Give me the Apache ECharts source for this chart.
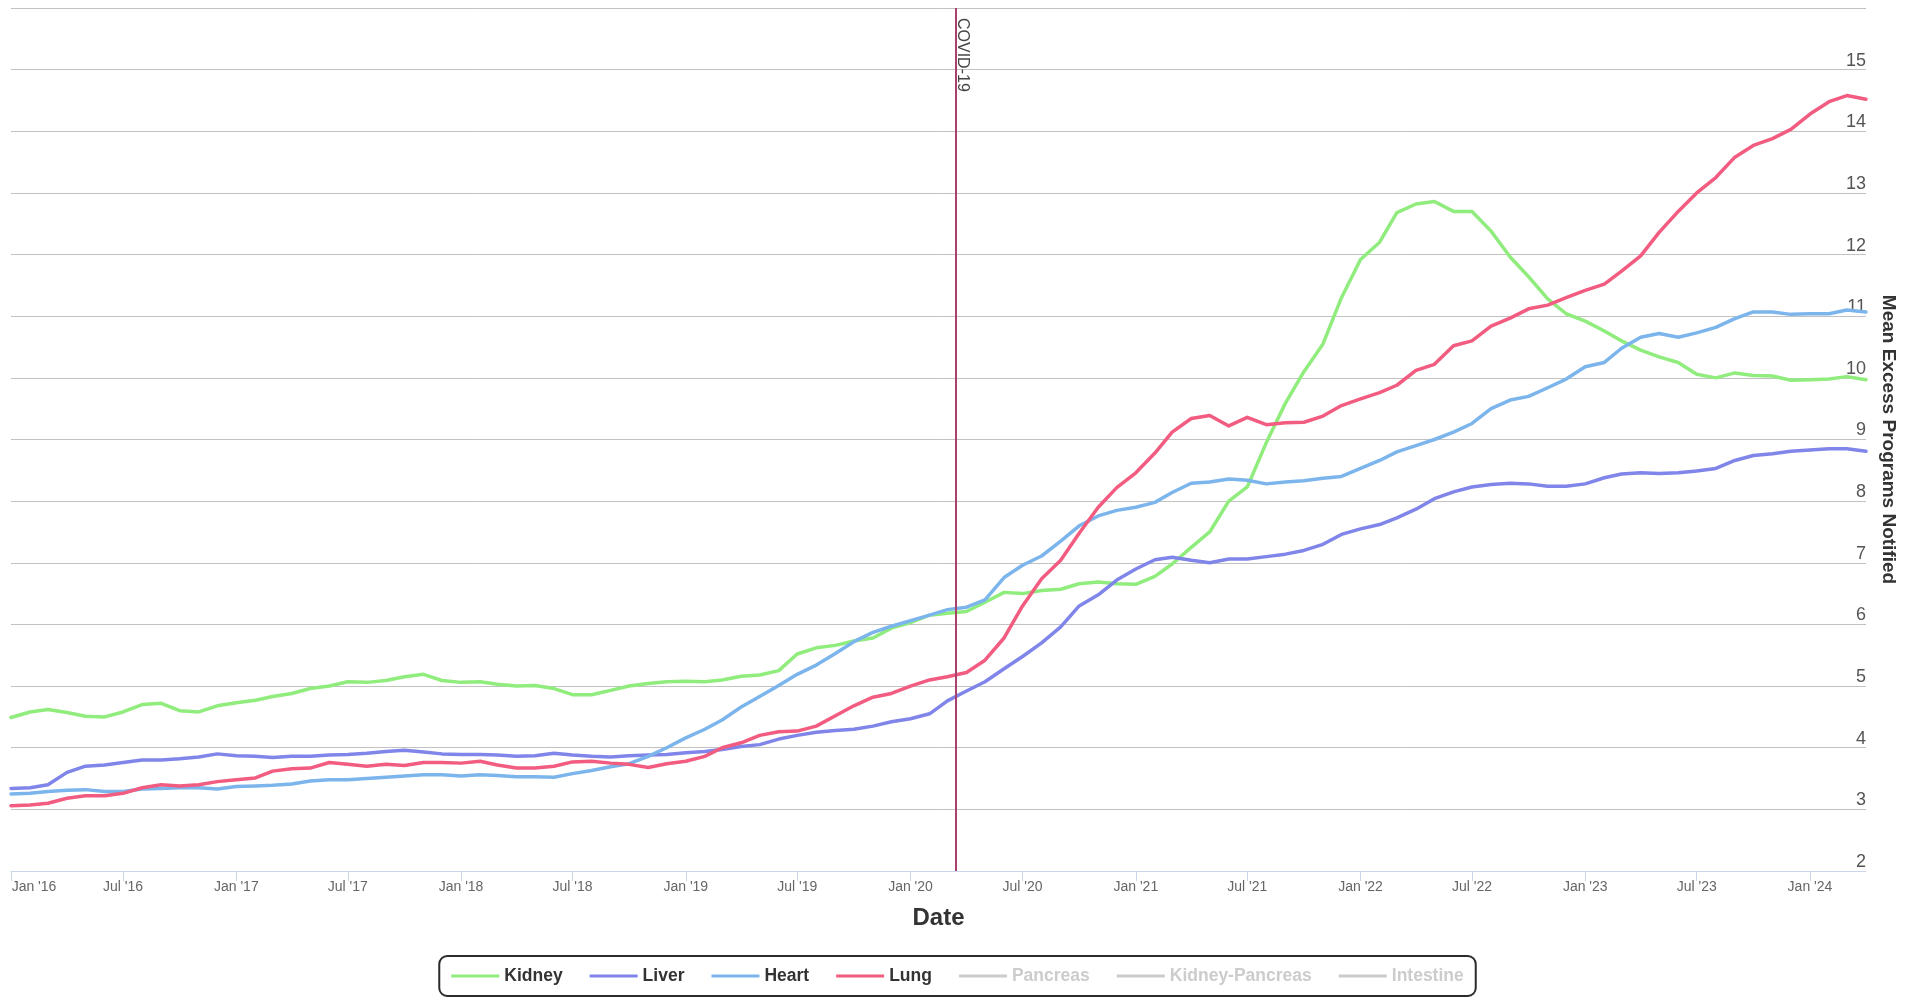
<!DOCTYPE html>
<html>
<head>
<meta charset="utf-8">
<script src="https://cdn.jsdelivr.net/npm/echarts@6/dist/echarts.min.js"></script>
<style>
html,body{margin:0;padding:0;background:#ffffff;}
#chart{width:1915px;height:998px;}
</style>
</head>
<body>
<div id="chart"></div>
<script>
// ---- data (monthly, Jan 2016 .. Apr 2024) ----
const startYear = 2016;
const monthCount = 100;
const monthNames = ['Jan','Feb','Mar','Apr','May','Jun','Jul','Aug','Sep','Oct','Nov','Dec'];

const kidney = [4.49,4.58,4.62,4.57,4.51,4.50,4.58,4.70,4.72,4.60,4.58,4.68,
  4.73,4.77,4.83,4.88,4.96,5.00,5.07,5.06,5.09,5.15,5.19,5.09,
  5.06,5.07,5.03,5.00,5.01,4.96,4.86,4.86,4.93,5.00,5.04,5.07,
  5.08,5.07,5.10,5.16,5.18,5.25,5.52,5.62,5.66,5.73,5.78,5.94,
  6.03,6.15,6.18,6.21,6.36,6.52,6.50,6.55,6.57,6.66,6.69,6.66,
  6.65,6.78,6.98,7.25,7.50,8.00,8.23,8.95,9.59,10.10,10.55,11.30,
  11.92,12.20,12.68,12.82,12.86,12.70,12.70,12.38,11.96,11.64,11.28,11.04,
  10.92,10.76,10.60,10.45,10.34,10.25,10.06,10.00,10.08,10.04,10.03,9.96,
  9.97,9.98,10.02,9.97];

const liver = [3.34,3.35,3.40,3.60,3.70,3.72,3.76,3.80,3.80,3.82,3.85,3.90,
  3.87,3.86,3.84,3.86,3.86,3.88,3.89,3.91,3.94,3.96,3.93,3.90,
  3.89,3.89,3.88,3.86,3.87,3.91,3.88,3.86,3.85,3.87,3.88,3.89,
  3.92,3.94,3.97,4.02,4.05,4.14,4.20,4.25,4.28,4.30,4.35,4.42,
  4.47,4.55,4.76,4.92,5.07,5.28,5.48,5.70,5.96,6.30,6.48,6.72,
  6.90,7.05,7.09,7.04,7.00,7.06,7.06,7.10,7.14,7.20,7.30,7.46,
  7.55,7.62,7.73,7.87,8.04,8.15,8.23,8.27,8.29,8.28,8.24,8.24,
  8.28,8.38,8.44,8.46,8.45,8.46,8.49,8.53,8.66,8.74,8.77,8.81,
  8.83,8.85,8.85,8.81];

const heart = [3.25,3.26,3.29,3.31,3.32,3.29,3.29,3.33,3.34,3.35,3.35,3.33,
  3.37,3.38,3.39,3.41,3.46,3.48,3.48,3.50,3.52,3.54,3.56,3.56,
  3.54,3.56,3.55,3.53,3.53,3.52,3.58,3.63,3.69,3.74,3.86,4.00,
  4.16,4.30,4.45,4.66,4.83,5.01,5.19,5.34,5.53,5.72,5.87,5.97,
  6.06,6.15,6.24,6.28,6.40,6.76,6.96,7.11,7.35,7.60,7.76,7.85,
  7.90,7.98,8.14,8.29,8.31,8.36,8.34,8.28,8.31,8.33,8.37,8.40,
  8.53,8.66,8.80,8.90,9.00,9.12,9.26,9.50,9.64,9.70,9.84,9.98,
  10.18,10.25,10.48,10.66,10.72,10.66,10.73,10.82,10.96,11.07,11.07,11.03,
  11.04,11.04,11.10,11.07];

const lung = [3.06,3.07,3.10,3.18,3.22,3.22,3.26,3.35,3.40,3.38,3.40,3.45,
  3.48,3.51,3.62,3.66,3.67,3.76,3.73,3.70,3.73,3.71,3.76,3.76,
  3.75,3.78,3.72,3.67,3.67,3.70,3.77,3.78,3.75,3.73,3.68,3.74,
  3.78,3.86,4.00,4.08,4.20,4.26,4.27,4.35,4.52,4.68,4.82,4.88,
  5.00,5.10,5.15,5.22,5.42,5.78,6.30,6.74,7.04,7.48,7.90,8.22,
  8.46,8.78,9.12,9.34,9.39,9.22,9.36,9.24,9.27,9.28,9.38,9.55,
  9.66,9.76,9.88,10.12,10.22,10.52,10.60,10.84,10.97,11.12,11.18,11.30,
  11.42,11.52,11.73,11.98,12.36,12.70,13.00,13.25,13.58,13.77,13.88,14.03,
  14.28,14.48,14.58,14.52];

const seriesNames = ['Kidney','Liver','Heart','Lung','Pancreas','Kidney-Pancreas','Intestine'];
const seriesColors = ['#90ed7d','#8085e9','#7cb5ec','#f15c80','#f7a35c','#e4d354','#2b908f'];
const hiddenSeries = ['Pancreas','Kidney-Pancreas','Intestine'];
const covidDate = [2020, 2, 15];  // year, monthIndex, day
const covidLabel = 'COVID-19';
const yMin = 2, yMax = 16, yStep = 1;
const xMin = [2016, 0, 1], xMax = [2024, 3, 1];

// ---- build ----
function ts(a){ return new Date(a[0], a[1], a[2]).getTime(); }
const dates = [];
for (let i = 0; i < monthCount; i++) {
  dates.push(new Date(startYear + Math.floor(i / 12), i % 12, 1).getTime());
}
const valueSets = [kidney, liver, heart, lung, [], [], []];
const DAY = 86400000;
const xMinTs = ts(xMin);

const selected = {};
hiddenSeries.forEach(n => selected[n] = false);

const series = seriesNames.map((name, k) => ({
  name: name,
  type: 'line',
  showSymbol: false,
  symbol: 'none',
  color: seriesColors[k],
  lineStyle: { width: 3.5, color: seriesColors[k], join: 'round', cap: 'round' },
  emphasis: { disabled: true },
  data: valueSets[k].map((v, i) => [dates[i], v])
}));
series[0].markLine = {
  silent: true,
  symbol: 'none',
  label: { show: false },
  lineStyle: { color: '#a8416b', width: 2, type: 'solid' },
  data: [{ xAxis: ts(covidDate) }]
};

const labelFont = 'Liberation Sans, Arial, sans-serif';
const chart = echarts.init(document.getElementById('chart'), null, { renderer: 'canvas' });
const option = {
  animation: false,
  backgroundColor: '#ffffff',
  grid: { left: 11, right: 49, top: 8, bottom: 127, containLabel: false, outerBoundsMode: 'none' },
  xAxis: {
    type: 'time',
    min: xMinTs,
    max: ts(xMax),
    minInterval: 181 * DAY,
    maxInterval: 184 * DAY,
    axisLine: { show: true, lineStyle: { color: '#ccd6eb', width: 1 } },
    axisTick: { show: true, length: 10, lineStyle: { color: '#ccd6eb', width: 1 } },
    splitLine: { show: false },
    axisLabel: {
      color: '#666666',
      fontSize: 14,
      fontFamily: labelFont,
      margin: 9,
      hideOverlap: false,
      formatter: function (value) {
        const d = new Date(value);
        const txt = monthNames[d.getMonth()] + " '" + String(d.getFullYear()).slice(2);
        return value === xMinTs ? '{first|' + txt + '}' : txt;
      },
      rich: {
        first: { color: '#666666', fontSize: 14, fontFamily: labelFont, padding: [0, 0, 0, 46] }
      }
    },
    name: 'Date',
    nameLocation: 'middle',
    nameGap: 35,
    nameTextStyle: { fontSize: 24, fontWeight: 'bold', color: '#333333', fontFamily: labelFont }
  },
  yAxis: {
    type: 'value',
    position: 'right',
    min: yMin,
    max: yMax,
    interval: yStep,
    axisLine: { show: false },
    axisTick: { show: false },
    splitLine: { show: true, lineStyle: { color: '#c2c2c2', width: 1 } },
    axisLabel: {
      inside: true,
      showMaxLabel: false,
      margin: 0,
      verticalAlign: 'bottom',
      color: '#555555',
      fontSize: 18,
      fontFamily: labelFont
    },
    name: 'Mean Excess Programs Notified',
    nameLocation: 'middle',
    nameRotate: -90,
    nameGap: 13,
    nameTextStyle: { fontSize: 19, fontWeight: 'bold', color: '#333333', fontFamily: labelFont }
  },
  legend: {
    data: seriesNames,
    selected: selected,
    left: 'center',
    bottom: 2,
    icon: 'rect',
    itemWidth: 48,
    itemHeight: 3,
    itemGap: 27,
    padding: [11, 12],
    borderColor: '#2b2b2b',
    borderWidth: 2,
    borderRadius: 8,
    inactiveColor: '#cccccc',
    textStyle: { fontSize: 17.5, fontWeight: 'bold', color: '#333333', fontFamily: labelFont }
  },
  series: series
};
chart.setOption(option);

// COVID-19 label next to the plot line, positioned through the x scale
const covidX = chart.convertToPixel({ xAxisIndex: 0 }, ts(covidDate));
const topY = chart.convertToPixel({ yAxisIndex: 0 }, yMax);
chart.setOption({
  graphic: [{
    type: 'text',
    x: covidX - 1.5,
    y: topY + 10,
    rotation: -Math.PI / 2,
    silent: true,
    style: {
      text: covidLabel,
      fill: '#444444',
      font: '16px "Liberation Sans", Arial, sans-serif',
      textAlign: 'left',
      textVerticalAlign: 'bottom'
    }
  }]
});
</script>
</body>
</html>
